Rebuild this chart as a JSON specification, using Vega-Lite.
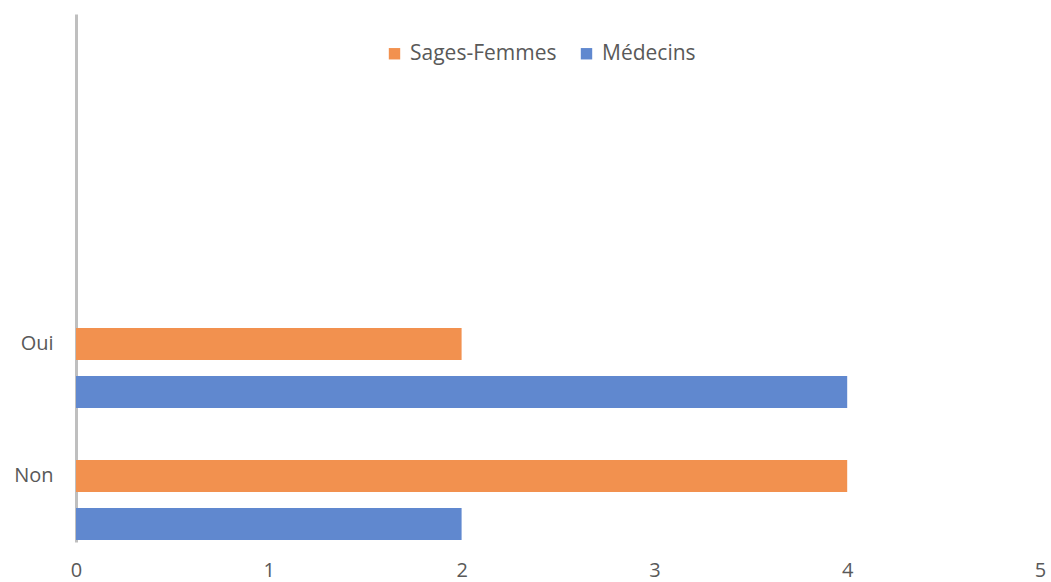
{
  "$schema": "https://vega.github.io/schema/vega-lite/v6.json",
  "width": 964,
  "height": 528,
  "autosize": "none",
  "padding": {"left": 76, "top": 14, "right": 11, "bottom": 40},
  "background": "#ffffff",
  "config": {"view": {"stroke": null}},
  "data": {
    "values": [
      {"reponse": "Oui", "profession": "Sages-Femmes", "valeur": 2},
      {"reponse": "Oui", "profession": "Médecins", "valeur": 4},
      {"reponse": "Non", "profession": "Sages-Femmes", "valeur": 4},
      {"reponse": "Non", "profession": "Médecins", "valeur": 2}
    ]
  },
  "mark": {"type": "bar"},
  "encoding": {
    "y": {
      "field": "reponse",
      "type": "nominal",
      "sort": null,
      "scale": {"domain": ["_a", "_b", "Oui", "Non"], "paddingInner": 0, "paddingOuter": 0},
      "axis": {
        "title": null,
        "ticks": false,
        "grid": false,
        "domain": true,
        "domainColor": "#BFBFBF",
        "domainWidth": 3,
        "labelFont": "Open Sans",
        "labelFontSize": 20,
        "labelColor": "#595959",
        "labelPadding": 23,
        "labelExpr": "indexof(['Oui','Non'], datum.value) >= 0 ? datum.value : ''"
      }
    },
    "yOffset": {
      "field": "profession",
      "type": "nominal",
      "sort": null,
      "scale": {"domain": ["_c", "Sages-Femmes", "Médecins"], "paddingInner": 0.3333, "paddingOuter": 0.0417}
    },
    "x": {
      "field": "valeur",
      "type": "quantitative",
      "scale": {"domain": [0, 5], "nice": false},
      "axis": {
        "title": null,
        "values": [0, 1, 2, 3, 4, 5],
        "domain": false,
        "ticks": false,
        "grid": false,
        "labelFlush": false,
        "labelOverlap": false,
        "labelFont": "Open Sans",
        "labelFontSize": 20,
        "labelColor": "#595959",
        "labelPadding": 18
      }
    },
    "color": {
      "field": "profession",
      "type": "nominal",
      "sort": null,
      "scale": {"domain": ["Sages-Femmes", "Médecins"], "range": ["#F2914F", "#6088CF"]},
      "legend": {
        "title": null,
        "orient": "none",
        "direction": "horizontal",
        "legendX": 308,
        "legendY": 29,
        "padding": 0,
        "symbolType": "square",
        "symbolSize": 130,
        "symbolStrokeWidth": 0,
        "labelFont": "Open Sans",
        "labelFontSize": 21,
        "labelColor": "#595959",
        "labelOffset": 5,
        "columnPadding": 19
      }
    }
  }
}
